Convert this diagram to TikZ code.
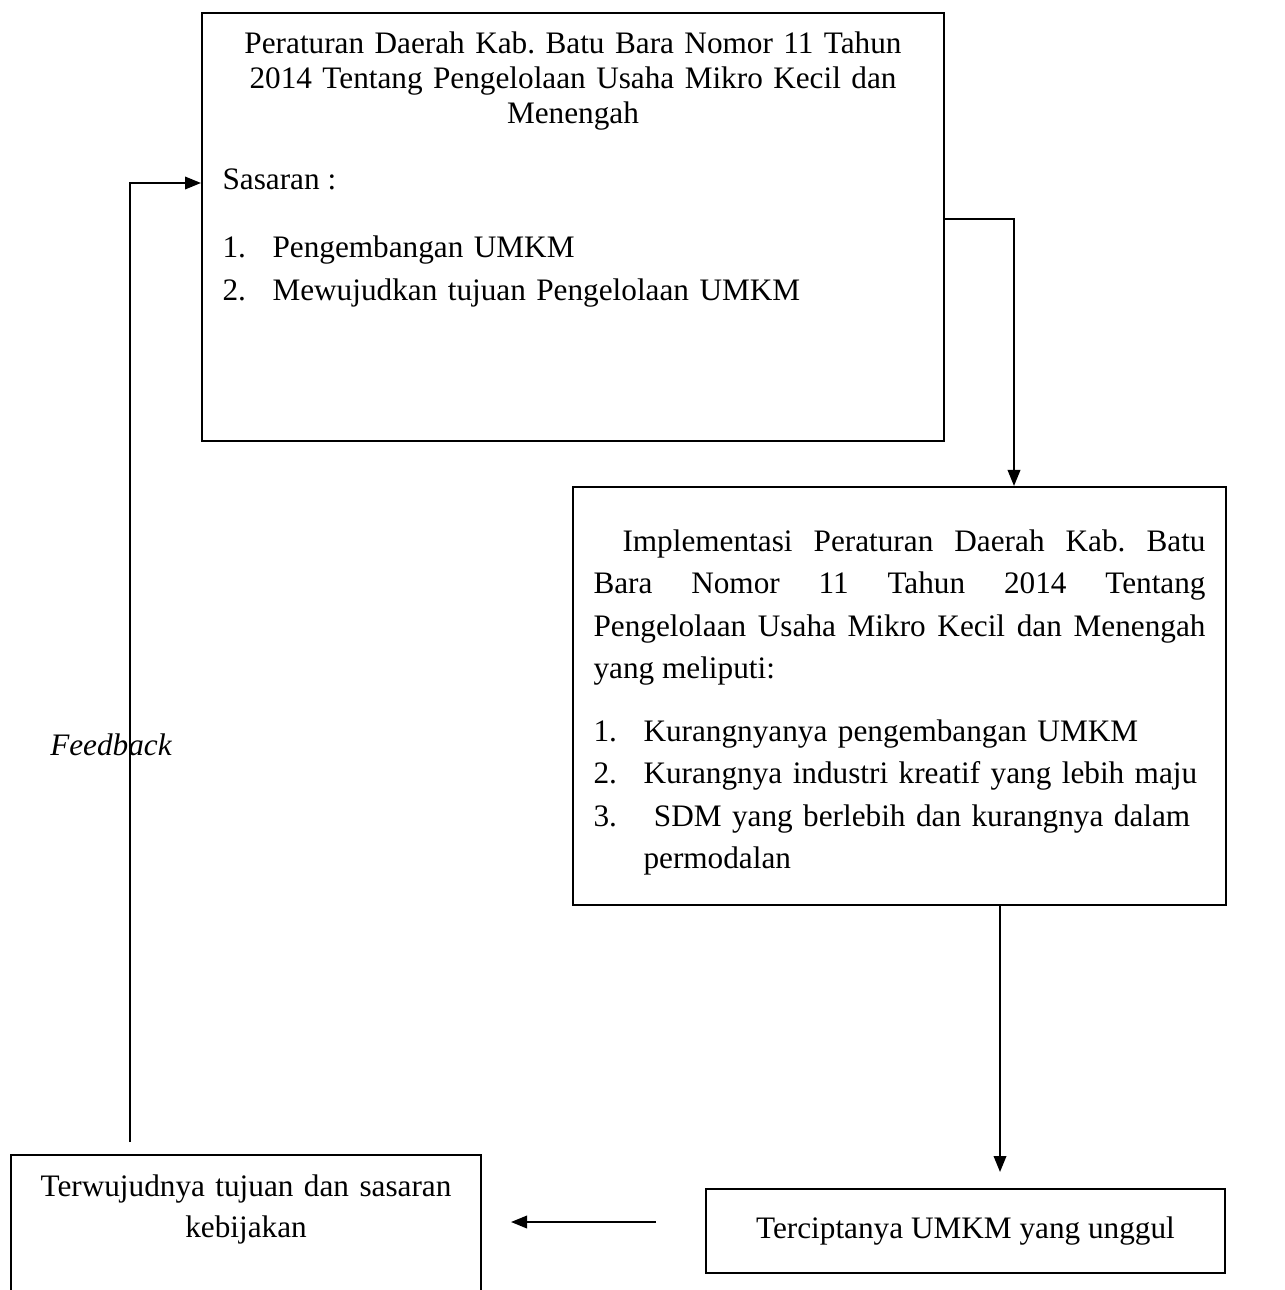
\documentclass[tikz,border=0pt]{standalone}
\usepackage{fontspec}
\setmainfont{Liberation Serif}
\usepackage{tikz}
\usetikzlibrary{fit, arrows.meta}
\frenchspacing

\tikzset{
  box/.style={draw, line width=0.8pt, inner sep=0pt},
  txt/.style={inner sep=0pt, font=\fontsize{12.5pt}{14pt}\selectfont},
  body/.style={inner sep=0pt, font=\fontsize{12.5pt}{17pt}\selectfont},
  arr/.style={-{Triangle[length=6.4pt, width=5pt]}, line width=0.8pt},
}

\begin{document}
\begin{tikzpicture}[x=0.4pt, y=-0.4pt]
    \useasboundingbox (0,0) rectangle (1284,1290);

    % Perda box
    \node[box, fit={(202,13) (944,441)}] (perda) {};
    \node[txt, text width=290pt, align=center, anchor=base] (judul) at (573,54)
      {Peraturan Daerah Kab. Batu Bara Nomor 11 Tahun\\2014 Tentang Pengelolaan Usaha Mikro Kecil dan\\Menengah};
    \node[txt, anchor=base west] (sasaran) at (222,190) {Sasaran :};
    \node[body, text width=270pt, align=left, anchor=base west] (tujuan) at (222,258)
      {\makebox[20pt][l]{1.}Pengembangan UMKM\\
       \makebox[20pt][l]{2.}Mewujudkan tujuan Pengelolaan UMKM};

    % Implementasi box
    \node[box, fit={(573,487) (1226,905)}] (impl) {};
    \node[body, text width=244.8pt, align=justify, anchor=base west] (implT) at (593,551)
      {\hyphenpenalty=10000 \hspace*{11.6pt}Implementasi Peraturan Daerah Kab. Batu\linebreak
       Bara Nomor 11 Tahun 2014 Tentang\linebreak
       Pengelolaan Usaha Mikro Kecil dan Menengah\linebreak
       yang meliputi:};
    \node[body, text width=250pt, align=left, anchor=base west] (masalah) at (593,741)
      {\makebox[20pt][l]{1.}Kurangnyanya pengembangan UMKM\\
       \makebox[20pt][l]{2.}Kurangnya industri kreatif yang lebih maju\\
       \makebox[20pt][l]{3.}\ SDM yang berlebih dan kurangnya dalam\\
       \hspace*{20pt}permodalan};

    % Hasil boxes
    \node[box, txt, minimum width=207.6pt, minimum height=33.6pt] (terc) at (965.5,1231)
      {Terciptanya UMKM yang unggul};
    \node[box, fit={(11,1155) (481,1340)}] (wujud) {};
    \node[inner sep=0pt, font=\fontsize{12.5pt}{16.4pt}\selectfont, text width=180pt, align=center, anchor=base] (wujudT) at (246,1196)
      {Terwujudnya tujuan dan sasaran\\kebijakan};

    % Feedback label
    \node[inner sep=0pt, font=\fontsize{12.5pt}{14pt}\selectfont\itshape] (fb) at (111,745) {Feedback};

    % connectors
    \coordinate (dropA) at (1014,0);
    \coordinate (dropB) at (1000,0);
    \coordinate (rowC) at (0,1222);
    \coordinate (fbx) at (130,0);
    \coordinate (rowS) at (0,183);
    \draw[arr] ([yshift=3.2pt]perda.east) -| (impl.north -| dropA);
    \draw[arr, shorten >=6.4pt] (impl.south -| dropB) -- (terc.north -| dropB);
    \draw[arr, shorten <=19.6pt, shorten >=11.6pt] (terc.west |- rowC) -- (wujud.east |- rowC);
    \draw[arr, shorten <=4.8pt] (wujud.north -| fbx) |- (perda.west |- rowS);
\end{tikzpicture}
\end{document}
